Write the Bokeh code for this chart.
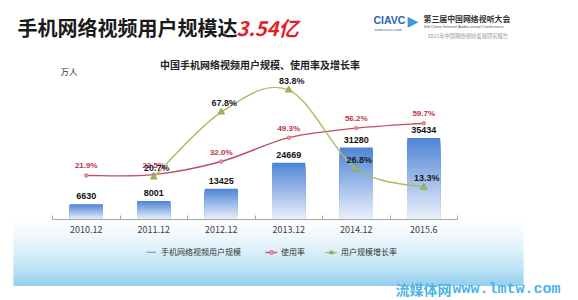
from bokeh.plotting import figure
from bokeh.models import (ColumnDataSource, Range1d, LinearAxis, FixedTicker, Label, LabelSet,
                          BoxAnnotation, Legend, LegendItem)
from bokeh.core.properties import value
from bokeh.embed import file_html
from bokeh.resources import INLINE

# ---------------- data ----------------
categories = ["2010.12", "2011.12", "2012.12", "2013.12", "2014.12", "2015.6"]
users = [6630, 8001, 13425, 24669, 31280, 35434]            # 万人
usage_rate = [21.9, 22.5, 32.0, 49.3, 56.2, 59.7]           # %
growth_rate = [None, 20.7, 67.8, 83.8, 26.8, 13.3]          # %

# ---------------- layout (pixels) ----------------
W, H = 578, 300
AX_LEFT = 52          # canvas x of the first category boundary
CAT_PX = 67.5         # width of one category
BASE_Y = 219          # canvas y of the category axis
USER_PX = 169 / 73500 # pixels per 万人
PCT_PX = 1.38         # pixels per percentage point
PCT_BASE = -10        # percentage value sitting on the axis line
CJK = "Noto Sans CJK SC"

n = len(categories)
xs = [i + 0.5 for i in range(n)]

x_start = -AX_LEFT / CAT_PX
x_end = (W - AX_LEFT) / CAT_PX
y_start = -(H - BASE_Y) / USER_PX
y_end = BASE_Y / USER_PX
p_start = PCT_BASE - (H - BASE_Y) / PCT_PX
p_end = PCT_BASE + BASE_Y / PCT_PX

p = figure(width=W, height=H, output_backend="svg", toolbar_location=None,
           x_range=Range1d(x_start, x_end), y_range=Range1d(y_start, y_end),
           min_border=0, x_axis_type=None, y_axis_type=None)
p.extra_y_ranges = {"pct": Range1d(p_start, p_end)}
p.outline_line_color = None
p.background_fill_color = "white"
p.border_fill_color = "white"
p.xgrid.visible = False
p.ygrid.visible = False


def lerp(c0, c1, t):
    return "#%02x%02x%02x" % tuple(int(round(a + (b - a) * t)) for a, b in zip(c0, c1))


def screen_text(text, cx, cy, size, color, bold=False, italic=False, align="left", font=CJK):
    style = "bold italic" if (bold and italic) else ("bold" if bold else ("italic" if italic else "normal"))
    p.add_layout(Label(x=cx, y=H - cy, x_units="screen", y_units="screen",
                       text=text, text_font=font, text_font_size=f"{size}px", text_color=color,
                       text_font_style=style, text_align=align, text_baseline="middle"))


# ---------------- background band (decoration) ----------------
stops = [(216, (255, 255, 255)), (232, (244, 249, 253)), (250, (221, 240, 250)),
         (270, (186, 225, 245)), (285, (146, 207, 239))]
for (ya, ca), (yb, cb) in zip(stops[:-1], stops[1:]):
    steps = int(yb - ya)
    for j in range(steps):
        t = (j + 0.5) / steps
        top = ya + j
        p.add_layout(BoxAnnotation(left=13, right=523, top=H - top, bottom=H - (top + 1.6),
                                   left_units="screen", right_units="screen",
                                   top_units="screen", bottom_units="screen",
                                   fill_color=lerp(ca, cb, t), fill_alpha=1.0,
                                   line_color=None, level="underlay"))

# ---------------- gradient bars (nested slices, tallest drawn first) ----------------
K = 30
top_rgb = (78, 132, 213)
bot_rgb = (236, 241, 251)
bx, bt, bc = [], [], []
for k in range(K - 1, -1, -1):
    for i, v in enumerate(users):
        bx.append(xs[i])
        bt.append(v * (k + 1) / K)
        bc.append(lerp(bot_rgb, top_rgb, (k + 0.5) / K))
bar_src = ColumnDataSource(dict(x=bx, top=bt, color=bc))
bar_r = p.vbar(x="x", bottom=0, top="top", width=0.49, fill_color="color",
               line_color=None, source=bar_src)


# ---------------- smooth lines ----------------
def smooth(xv, yv):
    m = len(xv)
    d = dict(x0=[], y0=[], x1=[], y1=[], cx0=[], cy0=[], cx1=[], cy1=[])
    for i in range(m - 1):
        x0, y0, x1, y1 = xv[i], yv[i], xv[i + 1], yv[i + 1]
        xp, yp = (xv[i - 1], yv[i - 1]) if i > 0 else (x0, y0)
        xn, yn = (xv[i + 2], yv[i + 2]) if i + 2 < m else (x1, y1)
        d["x0"].append(x0); d["y0"].append(y0); d["x1"].append(x1); d["y1"].append(y1)
        d["cx0"].append(x0 + (x1 - xp) / 6); d["cy0"].append(y0 + (y1 - yp) / 6)
        d["cx1"].append(x1 - (xn - x0) / 6); d["cy1"].append(y1 - (yn - y0) / 6)
    return ColumnDataSource(d)


RED = "#bf4f67"
GREEN = "#a4c064"

red_curve = p.bezier(x0="x0", y0="y0", x1="x1", y1="y1", cx0="cx0", cy0="cy0", cx1="cx1", cy1="cy1",
                     source=smooth(xs, usage_rate), line_color=RED, line_width=1.4, y_range_name="pct")
red_src = ColumnDataSource(dict(x=xs, y=usage_rate, t=[f"{v:.1f}%" for v in usage_rate]))
red_pts = p.scatter("x", "y", source=red_src, marker="circle", size=3.5, fill_color="#e59aae",
                    line_color="#d07088", y_range_name="pct")

gx = [x for x, g in zip(xs, growth_rate) if g is not None]
gy = [g for g in growth_rate if g is not None]
green_curve = p.bezier(x0="x0", y0="y0", x1="x1", y1="y1", cx0="cx0", cy0="cy0", cx1="cx1", cy1="cy1",
                       source=smooth(gx, gy), line_color=GREEN, line_width=1.4, y_range_name="pct")
green_src = ColumnDataSource(dict(x=gx, y=gy, t=[f"{v:.1f}%" for v in gy]))
green_pts = p.scatter("x", "y", source=green_src, marker="triangle", size=6.5, fill_color="#9bbb59",
                      line_color="#8aab4a", y_range_name="pct")

# ---------------- data labels ----------------
bar_lbl_src = ColumnDataSource(dict(x=xs, y=users, t=[str(v) for v in users]))
p.add_layout(LabelSet(x="x", y="y", text="t", source=bar_lbl_src, y_offset=8,
                      text_align="center", text_baseline="middle", text_font=value("Liberation Sans"),
                      text_font_size="9px", text_font_style="bold", text_color="#111111"))
p.add_layout(LabelSet(x="x", y="y", text="t", source=red_src, y_offset=9.5, y_range_name="pct",
                      text_align="center", text_baseline="middle", text_font=value("Liberation Sans"),
                      text_font_size="8px", text_font_style="bold", text_color="#c0304a"))
p.add_layout(LabelSet(x="x", y="y", text="t", source=green_src, x_offset=3, y_offset=9, y_range_name="pct",
                      text_align="center", text_baseline="middle", text_font=value("Liberation Sans"),
                      text_font_size="9px", text_font_style="bold", text_color="#1a1a2a"))

# ---------------- category axis (drawn at users = 0) ----------------
xaxis = LinearAxis(ticker=FixedTicker(ticks=xs, minor_ticks=list(range(n + 1))),
                   major_label_overrides={x: c for x, c in zip(xs, categories)},
                   fixed_location=0, bounds=(0, n))
xaxis.axis_line_color = "#a6a6a6"
xaxis.major_tick_line_color = None
xaxis.major_tick_in = 0
xaxis.major_tick_out = 0
xaxis.minor_tick_line_color = "#a6a6a6"
xaxis.minor_tick_in = 4
xaxis.minor_tick_out = 0
xaxis.major_label_standoff = 6
xaxis.major_label_text_font = CJK
xaxis.major_label_text_font_size = "9px"
xaxis.major_label_text_color = "#404040"
p.add_layout(xaxis, "below")

# ---------------- legends ----------------
common = dict(border_line_color=None, background_fill_alpha=0, padding=0, margin=0,
              label_text_font=CJK, label_text_font_size="8px", label_text_color="#333333",
              label_standoff=4, glyph_width=12, label_height=10)
leg1 = Legend(items=[LegendItem(label="手机网络视频用户规模", renderers=[bar_r], index=len(users) * 8)],
              location=(145, H - 257), glyph_height=2, **common)
leg2 = Legend(items=[LegendItem(label="使用率", renderers=[red_curve, red_pts]),
                     LegendItem(label="用户规模增长率", renderers=[green_curve, green_pts])],
              location=(265, H - 257), orientation="horizontal", spacing=20, glyph_height=10, **common)
p.add_layout(leg1)
p.add_layout(leg2)

# ---------------- texts ----------------
screen_text("手机网络视频用户规模达", 17, 27, 20, "#1a1a1a", bold=True)
screen_text("3.54亿", 236, 27, 20, "#e3202a", bold=True, italic=True)
screen_text("中国手机网络视频用户规模、使用率及增长率", 259.5, 64, 10, "#222222", bold=True, align="center")
screen_text("万人", 60, 70, 8.5, "#333333")

# logo
screen_text("CIAVC", 373, 19, 10.5, "#2a66b0", bold=True, font="Liberation Sans")
screen_text("www.ciavc.com", 374, 29, 4, "#2a66b0", font="Liberation Sans")
screen_text("▶", 407, 20, 14, "#3a9ad9", font="DejaVu Sans")
screen_text("第三届中国网络视听大会", 423, 18, 7.9, "#333333", bold=True)
screen_text("3rd China Internet Audio-visual Conference", 423, 25.5, 4.2, "#555555", font="Liberation Sans")
screen_text("2015年中国网络视听发展研究报告", 427, 35, 5.3, "#999999")

# watermark
screen_text("流媒体网", 395, 288, 14, "#4cb4e8", bold=True)
screen_text("www.lmtw.com", 452, 289, 15, "#4cb4e8", bold=True, font="Liberation Mono")

open("out.html", "w").write(file_html(p, INLINE))
